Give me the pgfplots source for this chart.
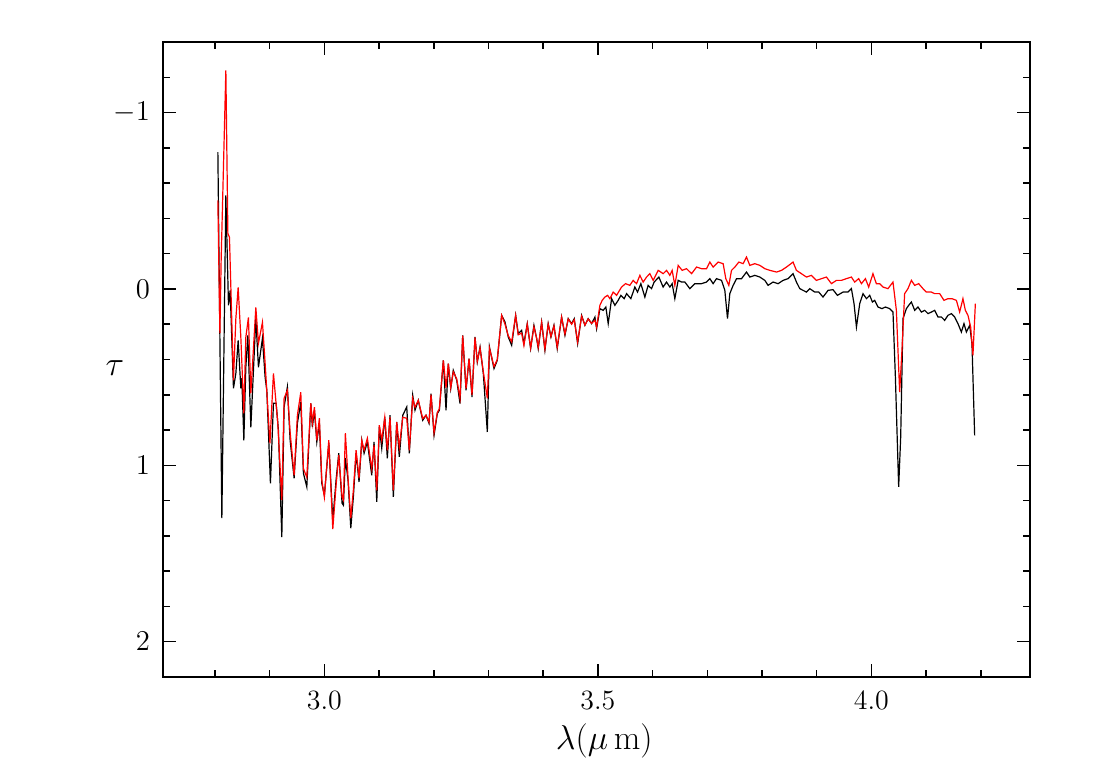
\documentclass[border=0pt]{standalone}
\usepackage{pgfplots}
\pgfplotsset{compat=1.18}

% optical depth spectrum, two reductions (black, red)
\pgfplotstableread{
x y
2.8053 -0.7756
2.8126 1.2997
2.8199 -0.5303
2.8247 0.0929
2.8278 0.0079
2.8338 0.5632
2.8382 0.4782
2.8424 0.2912
2.8473 0.5632
2.8491 0.5065
2.8528 0.8578
2.8564 0.4442
2.8601 0.2629
2.8656 0.7841
2.8747 0.1666
2.8795 0.4442
2.8868 0.2799
2.8917 0.5008
2.8948 0.5745
2.9014 1.1014
2.9069 0.6482
2.9118 0.6482
2.9160 0.8011
2.9222 1.4074
2.9264 0.6691
2.9324 0.5558
2.9374 0.8578
2.9447 1.0731
2.9507 0.7615
2.9569 0.6408
2.9617 1.0448
2.9679 1.1224
2.9752 0.6482
2.9781 0.7824
2.9818 0.6878
2.9862 0.8674
2.9909 0.7615
2.9953 1.1014
3.0000 1.1694
3.0081 0.8748
3.0154 1.3110
3.0214 1.0844
3.0263 0.9314
3.0324 1.2147
3.0348 1.2261
3.0384 0.9598
3.0433 1.0844
3.0483 1.3564
3.0530 1.1790
3.0580 0.9314
3.0634 1.0941
3.0684 0.8578
3.0726 0.9314
3.0786 0.8674
3.0866 1.0561
3.0908 0.8674
3.0958 1.2074
3.1005 0.7824
3.1049 0.9031
3.1104 0.7258
3.1151 0.9598
3.1200 0.7161
3.1261 1.1790
3.1323 0.7541
3.1370 0.9524
3.1433 0.7161
3.1506 0.6691
3.1553 0.9314
3.1615 0.6028
3.1657 0.6878
3.1717 0.6312
3.1798 0.7445
3.1858 0.7161
3.1913 0.7615
3.1950 0.5932
3.2005 0.8295
3.2065 0.7065
3.2102 0.6878
3.2175 0.4045
3.2224 0.6878
3.2266 0.4232
3.2310 0.5649
3.2357 0.4612
3.2420 0.5178
3.2480 0.6499
3.2529 0.2629
3.2590 0.5745
3.2645 0.3949
3.2699 0.6125
3.2754 0.2725
3.2796 0.4142
3.2846 0.3292
3.2906 0.4799
3.2979 0.8108
3.3018 0.3292
3.3101 0.4516
3.3161 0.4045
3.3241 0.1496
3.3302 0.1875
3.3362 0.2725
3.3424 0.3195
3.3497 0.1496
3.3544 0.2533
3.3606 0.2346
3.3648 0.3099
3.3709 0.1966
3.3771 0.3382
3.3831 0.2062
3.3881 0.2816
3.3910 0.3382
3.3972 0.1875
3.4032 0.3479
3.4092 0.1966
3.4142 0.2725
3.4197 0.2062
3.4257 0.3382
3.4337 0.1592
3.4398 0.2629
3.4458 0.1683
3.4520 0.1966
3.4568 0.1683
3.4630 0.3099
3.4703 0.1496
3.4763 0.2062
3.4823 0.1683
3.4885 0.1966
3.4946 0.1592
3.4977 0.2249
3.5037 0.1116
3.5097 0.1212
3.5146 0.1025
3.5189 0.1966
3.5251 0.0550
3.5311 0.0929
3.5371 0.0646
3.5421 0.0363
3.5481 0.0550
3.5525 0.0266
3.5603 0.0550
3.5676 -0.0108
3.5725 0.0176
3.5786 -0.0300
3.5859 0.0459
3.5919 -0.0204
3.5981 -0.0017
3.6029 -0.0391
3.6115 -0.0674
3.6193 -0.0108
3.6255 -0.0391
3.6316 -0.0108
3.6358 -0.0300
3.6407 0.0550
3.6468 -0.0487
3.6530 -0.0391
3.6590 -0.0391
3.6681 -0.0017
3.6773 -0.0300
3.6895 -0.0300
3.6986 -0.0391
3.7047 -0.0584
3.7107 -0.0300
3.7169 -0.0584
3.7261 -0.0487
3.7321 0.0079
3.7370 0.1683
3.7412 0.0266
3.7473 -0.0204
3.7535 -0.0584
3.7626 -0.0584
3.7717 -0.0958
3.7778 -0.0674
3.7869 -0.0771
3.7961 -0.0674
3.8052 -0.0487
3.8112 -0.0204
3.8203 -0.0391
3.8295 -0.0300
3.8386 -0.0487
3.8477 -0.0584
3.8568 -0.0867
3.8630 -0.0391
3.8691 -0.0017
3.8751 0.0079
3.8813 0.0176
3.8873 -0.0017
3.8965 0.0176
3.9038 0.0176
3.9116 0.0459
3.9208 0.0079
3.9299 0.0040
3.9379 0.0363
3.9482 0.0176
3.9573 0.0176
3.9635 -0.0017
3.9683 0.0833
3.9727 0.2159
3.9787 0.0833
3.9847 0.0266
3.9910 0.0550
3.9970 0.0363
4.0019 0.0742
4.0061 0.0646
4.0121 0.1025
4.0194 0.1116
4.0256 0.1025
4.0335 0.1116
4.0395 0.1309
4.0439 0.4992
4.0499 1.1224
4.0536 0.8391
4.0578 0.1683
4.0640 0.1116
4.0682 0.0929
4.0731 0.0742
4.0792 0.1212
4.0852 0.1025
4.0914 0.1309
4.0975 0.1212
4.1035 0.1399
4.1097 0.1309
4.1157 0.1212
4.1218 0.1592
4.1280 0.1592
4.1340 0.1779
4.1400 0.1496
4.1462 0.1399
4.1523 0.1592
4.1583 0.1966
4.1645 0.2442
4.1693 0.1966
4.1737 0.2442
4.1797 0.2062
4.1839 0.3099
4.1888 0.8295
}\taublack

\pgfplotstableread{
x y
2.8053 -0.5020
2.8090 0.2516
2.8113 -0.1620
2.8199 -1.2385
2.8236 -0.3150
2.8265 -0.2924
2.8338 0.5178
2.8382 0.1666
2.8424 -0.0091
2.8473 0.2742
2.8528 0.7048
2.8564 0.2742
2.8612 0.1609
2.8656 0.5915
2.8747 0.1042
2.8795 0.3082
2.8868 0.1892
2.8917 0.4215
2.9005 0.8748
2.9069 0.4782
2.9149 0.7615
2.9222 1.1977
2.9264 0.6199
2.9324 0.5745
2.9374 0.8125
2.9447 1.0561
2.9507 0.7161
2.9569 0.5858
2.9617 1.0187
2.9679 1.0674
2.9752 0.6482
2.9781 0.7615
2.9818 0.6708
2.9862 0.8578
2.9909 0.7331
2.9953 1.0844
3.0000 1.1807
3.0081 0.8578
3.0154 1.3620
3.0214 1.1127
3.0263 0.9428
3.0324 1.1807
3.0348 1.1977
3.0384 0.8181
3.0433 1.0731
3.0483 1.2997
3.0530 1.1411
3.0580 0.9144
3.0634 1.0731
3.0684 0.8578
3.0726 0.9144
3.0786 0.8465
3.0866 1.0187
3.0908 0.8861
3.0958 1.1411
3.1005 0.7728
3.1049 0.8578
3.1104 0.7275
3.1151 0.9144
3.1200 0.7275
3.1261 1.1411
3.1323 0.7558
3.1370 0.8974
3.1433 0.7275
3.1506 0.7331
3.1553 0.9144
3.1615 0.6199
3.1657 0.6708
3.1717 0.6312
3.1798 0.735
3.1858 0.716
3.1913 0.755
3.1950 0.600
3.2005 0.815
3.2065 0.700
3.2102 0.680
3.2175 0.405
3.2224 0.560
3.2266 0.423
3.2310 0.560
3.2357 0.470
3.2420 0.510
3.2480 0.620
3.2529 0.265
3.2590 0.565
3.2645 0.395
3.2699 0.600
3.2754 0.275
3.2796 0.410
3.2846 0.335
3.2906 0.470
3.2979 0.620
3.3018 0.335
3.3101 0.440
3.3161 0.400
3.3241 0.150
3.3302 0.200
3.3362 0.265
3.3424 0.300
3.3497 0.150
3.3544 0.260
3.3606 0.250
3.3648 0.320
3.3709 0.200
3.3771 0.335
3.3831 0.215
3.3881 0.280
3.3910 0.330
3.3972 0.190
3.4032 0.340
3.4092 0.200
3.4142 0.270
3.4197 0.210
3.4257 0.330
3.4337 0.160
3.4398 0.255
3.4458 0.170
3.4520 0.200
3.4568 0.175
3.4630 0.300
3.4703 0.155
3.4763 0.205
3.4823 0.170
3.4885 0.195
3.4946 0.1779
3.4977 0.2159
3.5037 0.0929
3.5079 0.0646
3.5128 0.0459
3.5178 0.0363
3.5220 0.0550
3.5280 0.0176
3.5342 0.0363
3.5433 -0.0108
3.5506 -0.0300
3.5585 -0.0204
3.5645 -0.0487
3.5707 -0.0300
3.5768 -0.0771
3.5828 -0.0391
3.5890 -0.0674
3.5951 -0.0867
3.6011 -0.0487
3.6103 -0.1054
3.6194 -0.0867
3.6256 -0.1054
3.6316 -0.0771
3.6358 -0.1054
3.6407 -0.0204
3.6468 -0.1337
3.6541 -0.1054
3.6621 -0.1150
3.6713 -0.0867
3.6804 -0.1241
3.6895 -0.1150
3.6986 -0.1150
3.7047 -0.1524
3.7107 -0.1241
3.7199 -0.1524
3.7290 -0.1433
3.7339 -0.0584
3.7394 -0.0204
3.7443 -0.1054
3.7504 -0.1241
3.7577 -0.1524
3.7655 -0.1433
3.7717 -0.1807
3.7778 -0.1337
3.7869 -0.1433
3.7961 -0.1337
3.8052 -0.1150
3.8143 -0.1054
3.8266 -0.0958
3.8357 -0.1054
3.8448 -0.1241
3.8568 -0.1524
3.8630 -0.1054
3.8721 -0.0867
3.8813 -0.0674
3.8904 -0.0771
3.8996 -0.0487
3.9087 -0.0584
3.9178 -0.0674
3.9270 -0.0300
3.9361 -0.0487
3.9452 -0.0487
3.9543 -0.0584
3.9635 -0.0674
3.9695 -0.0391
3.9768 -0.0584
3.9818 -0.0300
3.9891 -0.0584
3.9951 -0.0108
4.0029 -0.0867
4.0091 -0.0300
4.0151 -0.0300
4.0212 -0.0108
4.0303 -0.0017
4.0395 -0.0391
4.0457 0.1212
4.0517 0.5841
4.0559 0.3479
4.0608 0.0266
4.0669 -0.0017
4.0731 -0.0487
4.0792 -0.0204
4.0865 -0.0300
4.0943 -0.0017
4.1005 0.0176
4.1097 0.0176
4.1157 0.0266
4.1249 0.0266
4.1327 0.0646
4.1400 0.0550
4.1473 0.0550
4.1554 0.0646
4.1614 0.1309
4.1674 0.0550
4.1718 0.1212
4.1766 0.1496
4.1815 0.2159
4.1857 0.3762
4.1901 0.0833
}\taured

\begin{document}
\begin{tikzpicture}
\useasboundingbox (0,0) rectangle (547.5bp,387bp);
\begin{axis}[
    at={(81.5bp,48.5bp)}, anchor=south west,
    width=433.5bp, height=317.5bp, scale only axis,
    xmin=2.705, xmax=4.29,
    ymin=-1.4, ymax=2.2, y dir=reverse,
    xtick={3.0,3.5,4.0}, xticklabels={3.0,3.5,4.0},
    minor xtick={2.8,2.9,3.1,3.2,3.3,3.4,3.6,3.7,3.8,3.9,4.1,4.2},
    ytick={-1,0,1,2},
    minor ytick={-1.2,-0.8,-0.6,-0.4,-0.2,0.2,0.4,0.6,0.8,1.2,1.4,1.6,1.8},
    tick align=inside,
    major tick length=6.5bp, minor tick length=3.5bp,
    every tick/.style={black, line width=0.75bp},
    axis line style={line width=0.9bp},
    tick label style={font=\fontsize{14}{16}\selectfont},
    xticklabel style={yshift=-3.5bp},
    yticklabel style={xshift=-3bp},
    xlabel={$\lambda(\mu\,\mathrm{m})$},
    ylabel={$\tau$},
    xlabel style={font=\fontsize{16}{19}\selectfont,
        at={(axis description cs:0.509,-0.1008)}, anchor=center},
    ylabel style={font=\fontsize{19}{22}\selectfont, rotate=-90,
        at={(axis description cs:-0.0554,0.4866)}, anchor=center},
]
\addplot[black, line width=0.6bp] table {\taublack};
\addplot[red, line width=0.6bp] table {\taured};
\end{axis}
\end{tikzpicture}
\end{document}
